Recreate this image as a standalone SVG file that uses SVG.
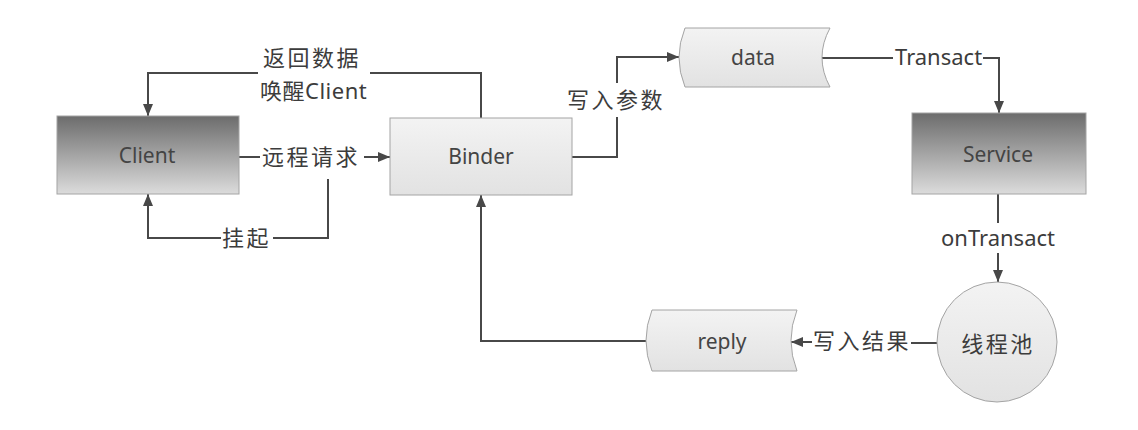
<svg xmlns="http://www.w3.org/2000/svg" width="1138" height="430" viewBox="0 0 1138 430">
<defs>
<linearGradient id="dark" x1="0" y1="0" x2="0" y2="1">
<stop offset="0" stop-color="#6c6c6c"/>
<stop offset="1" stop-color="#dcdcdc"/>
</linearGradient>
<linearGradient id="light" x1="0" y1="0" x2="0" y2="1">
<stop offset="0" stop-color="#f3f3f3"/>
<stop offset="1" stop-color="#e2e2e2"/>
</linearGradient>
<marker id="arr" markerUnits="userSpaceOnUse" markerWidth="13" markerHeight="11" refX="12" refY="5" orient="auto">
<path d="M0,0 L12,5 L0,10 Z" fill="#484848"/>
</marker>
</defs>
<style>
.dk{fill:url(#dark);stroke:#a4a4a4;stroke-width:1}
.lt{fill:url(#light);stroke:#a4a4a4;stroke-width:1}
.nt{font-family:"Noto Sans","Open Sans","Noto Sans CJK SC",sans-serif;font-size:21px;fill:#444}
.cn{font-family:"Noto Sans CJK SC","Noto Sans",sans-serif;font-size:22px;fill:#3c3c3c;letter-spacing:2.5px}
.en{font-family:"Noto Sans","Noto Sans CJK SC",sans-serif;font-size:22px;fill:#3c3c3c}
.ln{fill:none;stroke:#484848;stroke-width:2}
</style>
<rect width="1138" height="430" fill="#ffffff"/>
<g id="connectors">
<path class="ln" d="M481,118 V73 H370 M258,73 H148 V116" marker-end="url(#arr)"/>
<path class="ln" d="M239,157 H260 M364,157 H390" marker-end="url(#arr)"/>
<path class="ln" d="M328,179 V238 H273 M221,238 H148 V194" marker-end="url(#arr)"/>
<path class="ln" d="M572,157 H617 V117 M617,83 V57 H679" marker-end="url(#arr)"/>
<path class="ln" d="M822,58 H893 M983,58 H999 V113" marker-end="url(#arr)"/>
<path class="ln" d="M998,194 V223 M998,253 V282" marker-end="url(#arr)"/>
<path class="ln" d="M937,343 H911 M812,342 H791" marker-end="url(#arr)"/>
<path class="ln" d="M646,341 H481 V195" marker-end="url(#arr)"/>
<text class="cn" x="263" y="66">返回数据</text>
<text class="en" x="260" y="99" letter-spacing="0.5">唤醒Client</text>
<text class="cn" x="262" y="165">远程请求</text>
<text class="cn" x="222" y="246">挂起</text>
<text class="cn" x="567" y="108">写入参数</text>
<text class="en" x="895" y="65">Transact</text>
<text class="en" x="941" y="246">onTransact</text>
<text class="cn" x="813" y="349">写入结果</text>
</g>
<g id="client">
<rect class="dk" x="57" y="116" width="182" height="78"/>
<text class="nt" x="147" y="163" text-anchor="middle">Client</text>
</g>
<g id="binder">
<rect class="lt" x="390" y="118" width="182" height="77"/>
<text class="nt" x="481" y="164" text-anchor="middle">Binder</text>
</g>
<g id="data">
<path class="lt" d="M685,28 H830 Q814,57.5 830,87 H685 Q673,57.5 685,28 Z"/>
<text class="nt" x="753" y="65" text-anchor="middle">data</text>
</g>
<g id="service">
<rect class="dk" x="912" y="113" width="174" height="81"/>
<text class="nt" x="998" y="162" text-anchor="middle">Service</text>
</g>
<g id="threadpool">
<circle class="lt" cx="997" cy="342" r="60"/>
<text class="cn" x="998" y="352" text-anchor="middle" font-size="24" letter-spacing="1">线程池</text>
</g>
<g id="reply">
<path class="lt" d="M652,310 H797 Q785,340.5 797,371 H652 Q640,340.5 652,310 Z"/>
<text class="nt" x="722" y="349" text-anchor="middle">reply</text>
</g>
</svg>
